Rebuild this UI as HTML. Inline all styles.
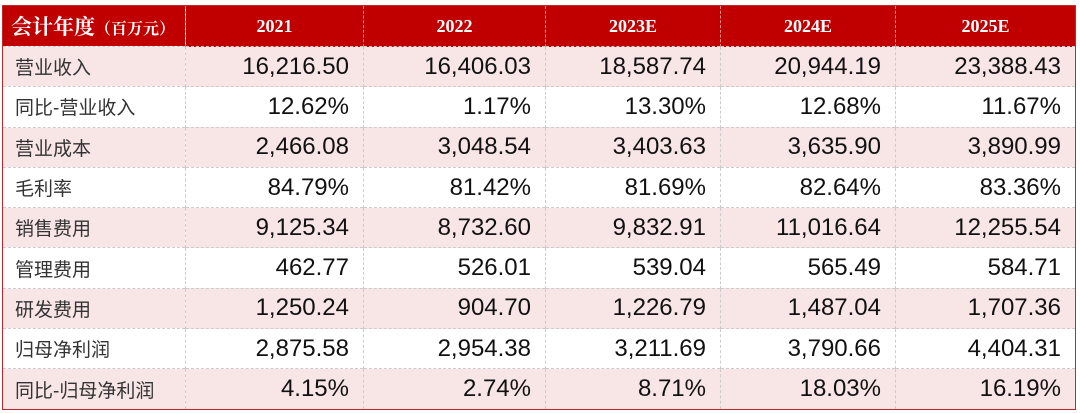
<!DOCTYPE html>
<html><head><meta charset="utf-8"><style>
body{margin:0;background:#fff;width:1080px;height:413px;overflow:hidden}
table{position:absolute;left:2px;top:5px;width:1073px;border-collapse:collapse;border:1px solid #c0272d;table-layout:fixed}
th{background:#c00000;color:#fff;font-family:"Liberation Serif","Noto Serif CJK SC",serif;font-weight:bold;font-size:18px;height:40px;padding:0;border-left:1px dashed #e58a8a}
th:first-child{text-align:left;padding-left:8px;font-size:21px;border-left:none;white-space:nowrap;overflow:hidden}
th small{font-size:16px}
td{height:39.3px;padding:0 14px 0 0;text-align:right;font-family:"Liberation Sans",sans-serif;font-size:24px;color:#111;border-top:1px dashed #ccc;border-left:1px dashed #ccc}
td:first-child{text-align:left;padding-left:12px;font-family:"Liberation Sans","Noto Sans CJK SC",sans-serif;font-size:19px;color:#333;border-left:none;white-space:nowrap;overflow:hidden}
tr.p td{background:#f8e6e6}
</style></head><body>
<table>
<colgroup><col style="width:183px"><col style="width:178px"><col style="width:182px"><col style="width:175px"><col style="width:175px"><col style="width:180px"></colgroup>
<tr><th>会计年度<small>（百万元）</small></th><th>2021</th><th>2022</th><th>2023E</th><th>2024E</th><th>2025E</th></tr>
<tr class="p"><td>营业收入</td><td>16,216.50</td><td>16,406.03</td><td>18,587.74</td><td>20,944.19</td><td>23,388.43</td></tr>
<tr><td>同比-营业收入</td><td>12.62%</td><td>1.17%</td><td>13.30%</td><td>12.68%</td><td>11.67%</td></tr>
<tr class="p"><td>营业成本</td><td>2,466.08</td><td>3,048.54</td><td>3,403.63</td><td>3,635.90</td><td>3,890.99</td></tr>
<tr><td>毛利率</td><td>84.79%</td><td>81.42%</td><td>81.69%</td><td>82.64%</td><td>83.36%</td></tr>
<tr class="p"><td>销售费用</td><td>9,125.34</td><td>8,732.60</td><td>9,832.91</td><td>11,016.64</td><td>12,255.54</td></tr>
<tr><td>管理费用</td><td>462.77</td><td>526.01</td><td>539.04</td><td>565.49</td><td>584.71</td></tr>
<tr class="p"><td>研发费用</td><td>1,250.24</td><td>904.70</td><td>1,226.79</td><td>1,487.04</td><td>1,707.36</td></tr>
<tr><td>归母净利润</td><td>2,875.58</td><td>2,954.38</td><td>3,211.69</td><td>3,790.66</td><td>4,404.31</td></tr>
<tr class="p"><td>同比-归母净利润</td><td>4.15%</td><td>2.74%</td><td>8.71%</td><td>18.03%</td><td>16.19%</td></tr>
</table>
</body></html>
